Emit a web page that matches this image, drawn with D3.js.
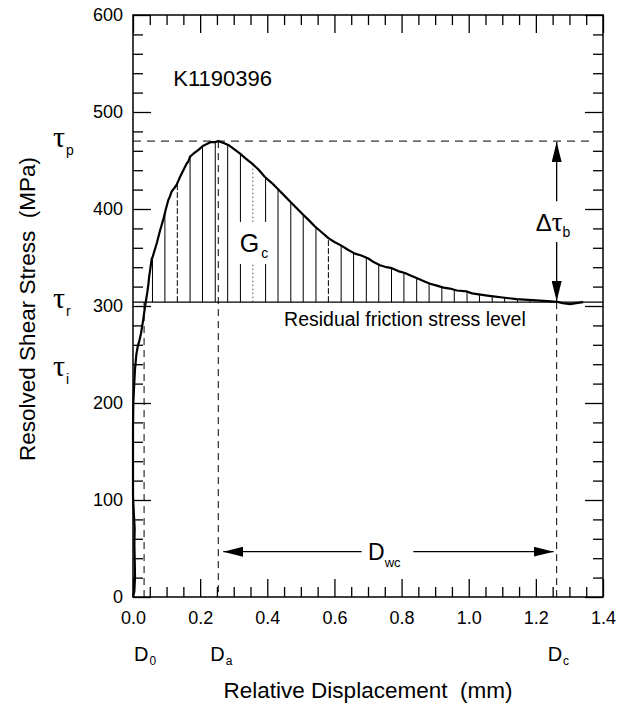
<!DOCTYPE html>
<html>
<head>
<meta charset="utf-8">
<script src="https://cdn.jsdelivr.net/npm/d3@7"></script>
<style>
  body { margin: 0; background: #fff; }
  svg { display: block; font-family: "Liberation Sans", Arial, sans-serif; }
</style>
</head>
<body>
<div id="chart"></div>
<script>
// relative displacement (mm) and resolved shear stress (MPa)
const dispMm = [0, 0.004, 0.006, 0.005, 0.004, 0.005, 0.002, 0.000, 0.000, 0.000, 0.001, 0.003, 0.006, 0.010, 0.014, 0.018, 0.024, 0.030, 0.034, 0.038,
  0.043, 0.046, 0.048, 0.051, 0.056, 0.058, 0.064, 0.071, 0.080, 0.090, 0.098, 0.105, 0.110, 0.115, 0.122, 0.130, 0.135, 0.140, 0.150, 0.160,
  0.165, 0.170, 0.180, 0.195, 0.208, 0.220, 0.232, 0.244, 0.254,
  0.270, 0.284, 0.300, 0.319, 0.336, 0.354, 0.373, 0.393, 0.413, 0.433, 0.453, 0.473, 0.490, 0.507, 0.525, 0.542, 0.562, 0.582, 0.600, 0.622,
  0.640, 0.661, 0.680, 0.701, 0.718, 0.736, 0.755, 0.771, 0.790, 0.810, 0.830, 0.850, 0.870, 0.885, 0.905, 0.925, 0.944, 0.965, 0.994, 1.010,
  1.030, 1.050, 1.073, 1.095, 1.120, 1.143, 1.165, 1.190, 1.212, 1.235, 1.262, 1.280, 1.302, 1.320, 1.341];
const stressMPa = [0, 6, 20, 40, 55, 70, 90, 105, 140, 175, 200, 215, 235, 250, 258, 263, 272, 285, 295, 304,
  315, 323, 330, 337, 349, 350, 357, 365, 377, 389, 400, 409, 413, 418, 421, 425, 429, 433, 440, 447,
  449, 454, 457, 461, 465, 467, 469, 469, 470,
  468, 466, 462, 457, 452, 447, 441, 433, 427, 420, 413, 406, 400, 394, 388, 382, 376, 370, 366, 362,
  358, 354, 352, 349, 345, 342, 340, 339, 336, 334, 331, 328, 325, 323, 321, 319, 318, 316, 315, 313,
  312, 311, 310, 309, 308, 307, 306.5, 306, 305.5, 305, 304.4, 303, 302, 303, 304];

const xTicks = [0, 0.2, 0.4, 0.6, 0.8, 1.0, 1.2, 1.4];
const yTicks = [0, 100, 200, 300, 400, 500, 600];

// characteristic levels and displacements
const tauPeak = 470;
const tauResid = 304;
const tauInit = 234;
const d0 = 0.033, dA = 0.254, dC = 1.262;

// vertical hatching positions under the curve (G_c area)
const hatchX = [0.058, 0.095, 0.132, 0.170, 0.207, 0.245, 0.282, 0.320, 0.357, 0.395, 0.432, 0.470, 0.507, 0.545, 0.582, 0.620,
  0.657, 0.695, 0.732, 0.770, 0.807, 0.845, 0.882, 0.920, 0.957, 0.995, 1.032, 1.070, 1.107, 1.145, 1.182, 1.220];
const hatchDashed = [0.132, 0.582];
const hatchDotted = [0.357];

const W = 638, H = 707;
const margin = {top: 15, right: 35, bottom: 110, left: 133};
const width = W - margin.left - margin.right;
const height = H - margin.top - margin.bottom;

const svg = d3.select('#chart').append('svg')
  .attr('width', W)
  .attr('height', H);
const g = svg.append('g')
  .attr('transform', `translate(${margin.left},${margin.top})`);

const x = d3.scaleLinear().domain([0, 1.4]).range([0, width]);
const y = d3.scaleLinear().domain([0, 600]).range([height, 0]);

const xMinor = d3.range(0, 1.4001, 0.05).filter(v => Math.abs(v * 5 - Math.round(v * 5)) > 1e-6);
const yMinor = d3.range(0, 600.1, 20).filter(v => v % 100 !== 0);

// axes, ticks pointing inward on all four sides
function tickStyle(sel) {
  sel.select('.domain').remove();
  sel.selectAll('line').attr('stroke', '#000').attr('stroke-width', 1.3);
  sel.selectAll('text').attr('fill', '#000').attr('font-size', 18)
    .attr('font-family', '"Liberation Sans", Arial, sans-serif');
}
g.append('g').attr('transform', `translate(0,${height})`)
  .call(d3.axisBottom(x).tickValues(xTicks).tickFormat(d3.format('.1f')).tickSizeInner(-18).tickSizeOuter(0).tickPadding(14))
  .call(tickStyle);
g.append('g').attr('transform', `translate(0,${height})`)
  .call(d3.axisBottom(x).tickValues(xMinor).tickFormat('').tickSizeInner(-10).tickSizeOuter(0))
  .call(tickStyle);
g.append('g')
  .call(d3.axisTop(x).tickValues(xTicks).tickFormat('').tickSizeInner(-18).tickSizeOuter(0))
  .call(tickStyle);
g.append('g')
  .call(d3.axisTop(x).tickValues(xMinor).tickFormat('').tickSizeInner(-10).tickSizeOuter(0))
  .call(tickStyle);
g.append('g')
  .call(d3.axisLeft(y).tickValues(yTicks).tickSizeInner(-18).tickSizeOuter(0).tickPadding(10))
  .call(tickStyle);
g.append('g')
  .call(d3.axisLeft(y).tickValues(yMinor).tickFormat('').tickSizeInner(-10).tickSizeOuter(0))
  .call(tickStyle);
g.append('g').attr('transform', `translate(${width},0)`)
  .call(d3.axisRight(y).tickValues(yTicks).tickFormat('').tickSizeInner(-18).tickSizeOuter(0))
  .call(tickStyle);
g.append('g').attr('transform', `translate(${width},0)`)
  .call(d3.axisRight(y).tickValues(yMinor).tickFormat('').tickSizeInner(-10).tickSizeOuter(0))
  .call(tickStyle);

g.append('rect')
  .attr('width', width).attr('height', height)
  .attr('fill', 'none').attr('stroke', '#000').attr('stroke-width', 1.5);

// stress on the curve at a given displacement (past the initial loading wiggle)
const points = dispMm.map((d, i) => [d, stressMPa[i]]);
function stressAt(d) {
  for (let i = 19; i < points.length - 1; i++) {
    const [x0, y0] = points[i], [x1, y1] = points[i + 1];
    if (d >= x0 && d <= x1) return y0 + (y1 - y0) * (d - x0) / (x1 - x0);
  }
  return tauResid;
}

// hatching
g.append('g').selectAll('line').data(hatchX).join('line')
  .attr('x1', d => x(d)).attr('x2', d => x(d))
  .attr('y1', y(tauResid)).attr('y2', d => y(stressAt(d)))
  .attr('stroke', d => hatchDotted.includes(d) ? '#555' : '#000')
  .attr('stroke-width', 1)
  .attr('stroke-dasharray', d => hatchDashed.includes(d) ? '6,2' : hatchDotted.includes(d) ? '1.5,2.5' : null);

// residual friction level
g.append('line')
  .attr('x1', 0).attr('x2', width)
  .attr('y1', y(tauResid)).attr('y2', y(tauResid))
  .attr('stroke', '#000').attr('stroke-width', 1.3);

// dashed guides
const dash = '7,5';
g.append('line')
  .attr('x1', 0).attr('x2', x(1.36))
  .attr('y1', y(tauPeak)).attr('y2', y(tauPeak))
  .attr('stroke', '#000').attr('stroke-width', 1).attr('stroke-dasharray', '8,6');
[[d0, tauResid], [dA, tauPeak], [dC, tauResid]].forEach(([d, top]) => {
  g.append('line')
    .attr('x1', x(d)).attr('x2', x(d))
    .attr('y1', y(top)).attr('y2', y(0))
    .attr('stroke', '#000').attr('stroke-width', 1).attr('stroke-dasharray', dash);
});

// G_c label with white box over the hatching
const gcX = x(0.36), gcY = y(365);
g.append('rect')
  .attr('x', gcX - 17).attr('y', gcY - 21).attr('width', 36).attr('height', 42)
  .attr('fill', '#fff');
const gc = g.append('text').attr('x', gcX - 14).attr('y', gcY + 9)
  .attr('font-size', 25);
gc.append('tspan').text('G');
gc.append('tspan').text('c').attr('font-size', 14).attr('dy', 6).attr('dx', 2);

// the curve
const line = d3.line().x(d => x(d[0])).y(d => y(d[1]));
g.append('path')
  .datum(points)
  .attr('d', line)
  .attr('fill', 'none').attr('stroke', '#000').attr('stroke-width', 2.2)
  .attr('stroke-linejoin', 'round');

// arrows
svg.append('defs').append('marker')
  .attr('id', 'head').attr('viewBox', '0 0 20 10')
  .attr('refX', 20).attr('refY', 5)
  .attr('markerWidth', 20).attr('markerHeight', 10)
  .attr('markerUnits', 'userSpaceOnUse')
  .attr('orient', 'auto')
  .append('path').attr('d', 'M0,0 L20,5 L0,10 Z').attr('fill', '#000');

function arrow(x1, y1, x2, y2) {
  g.append('line')
    .attr('x1', x1).attr('y1', y1).attr('x2', x2).attr('y2', y2)
    .attr('stroke', '#000').attr('stroke-width', 1.3)
    .attr('marker-end', 'url(#head)');
}
arrow(x(dC), y(408), x(dC), y(tauPeak) + 1);
arrow(x(dC), y(366), x(dC), y(tauResid) - 1);
arrow(x(0.681), y(46.7), x(dA) + 5, y(46.7));
arrow(x(0.835), y(46.7), x(dC) - 3, y(46.7));

const dtb = g.append('text').attr('x', x(dC) - 21).attr('y', y(386) + 8).attr('font-size', 24);
dtb.append('tspan').text('Δ');
dtb.append('tspan').text('τ').attr('font-family', '"Liberation Serif", serif').attr('font-size', 27);
dtb.append('tspan').text('b').attr('font-size', 14).attr('dy', 6);

const dwc = g.append('text').attr('x', x(0.70)).attr('y', y(46.7) + 8).attr('font-size', 23);
dwc.append('tspan').text('D');
dwc.append('tspan').text('wc').attr('font-size', 13).attr('dy', 7);

g.append('text')
  .attr('x', x(0.81)).attr('y', y(tauResid) + 24)
  .attr('text-anchor', 'middle').attr('font-size', 19.5)
  .text('Residual friction stress level');

g.append('text')
  .attr('x', x(0.12)).attr('y', y(527))
  .attr('font-size', 22)
  .text('K1190396');

// tau labels on the left
[['p', tauPeak], ['r', tauResid], ['i', tauInit]].forEach(([s, v]) => {
  const t = svg.append('text')
    .attr('x', 53).attr('y', margin.top + y(v) + 6);
  t.append('tspan').text('τ').attr('font-family', '"Liberation Serif", serif').attr('font-size', 30);
  t.append('tspan').text(s).attr('font-size', 14).attr('dy', 8).attr('dx', 1);
});

// D labels under the axis
[['0', d0, -10], ['a', dA, -8], ['c', dC, -9]].forEach(([s, d, off]) => {
  const t = svg.append('text')
    .attr('x', margin.left + x(d) + off).attr('y', 661).attr('font-size', 20);
  t.append('tspan').text('D');
  t.append('tspan').text(s).attr('font-size', 12).attr('dy', 4).attr('dx', 1);
});

// axis titles
svg.append('text')
  .attr('x', margin.left + width / 2).attr('y', 698)
  .attr('text-anchor', 'middle').attr('font-size', 22.5)
  .text('Relative Displacement\u00a0\u00a0(mm)');
svg.append('text')
  .attr('transform', `translate(35,${margin.top + height / 2 + 3}) rotate(-90)`)
  .attr('text-anchor', 'middle').attr('font-size', 22.5)
  .text('Resolved Shear Stress\u00a0\u00a0(MPa)');
</script>
</body>
</html>
